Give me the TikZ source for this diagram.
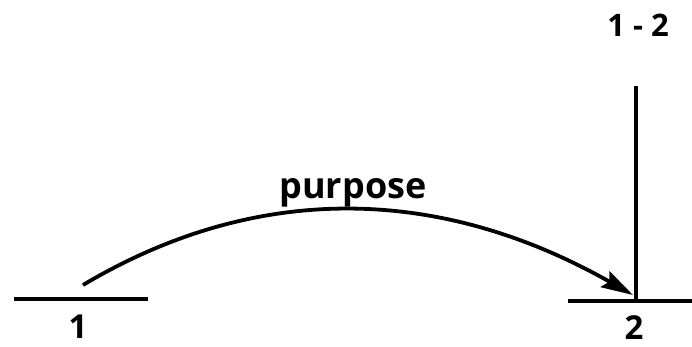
\documentclass[tikz,border=0pt]{standalone}
\usepackage{fontspec}
\setmainfont{Open Sans}
\usetikzlibrary{arrows.meta}
\begin{document}
\begin{tikzpicture}[x=1pt,y=-1pt,
  bar/.style={line width=3.8pt},
  lbl/.style={anchor=base,inner sep=0pt,font=\bfseries\fontsize{33}{33}\selectfont},
  toplbl/.style={anchor=base,inner sep=0pt,font=\bfseries\fontsize{31}{31}\selectfont},
  midlbl/.style={anchor=base,inner sep=0pt,font=\bfseries\fontsize{36}{36}\selectfont},
  rel/.style={line width=3.8pt,-{Stealth[length=32pt,width=18pt,inset=5pt]}}]
\useasboundingbox (0,0) rectangle (692,346);
% coordinates
\coordinate (l1a) at (14,299);
\coordinate (l1b) at (148,299);
\coordinate (l2a) at (568,301);
\coordinate (l2b) at (692,301);
\coordinate (vt) at (636,86);
\coordinate (vb) at (636,299);
\coordinate (s) at (83,285);
\coordinate (e) at (633,295);
% lines
\draw[bar] (l1a) -- (l1b);
\draw[bar] (l2a) -- (l2b);
\draw[bar] (vt) -- (vb);
% arc
\draw[rel] (s) .. controls (256,182) and (439,185) .. (e);
% labels
\node[lbl] (n1) at (78,338) {1};
\node[lbl] (n2) at (634,339) {2};
\node[toplbl] (n12) at (638,36) {1 - 2};
\node[midlbl] (np) at (353,198) {purpose};
\end{tikzpicture}
\end{document}
